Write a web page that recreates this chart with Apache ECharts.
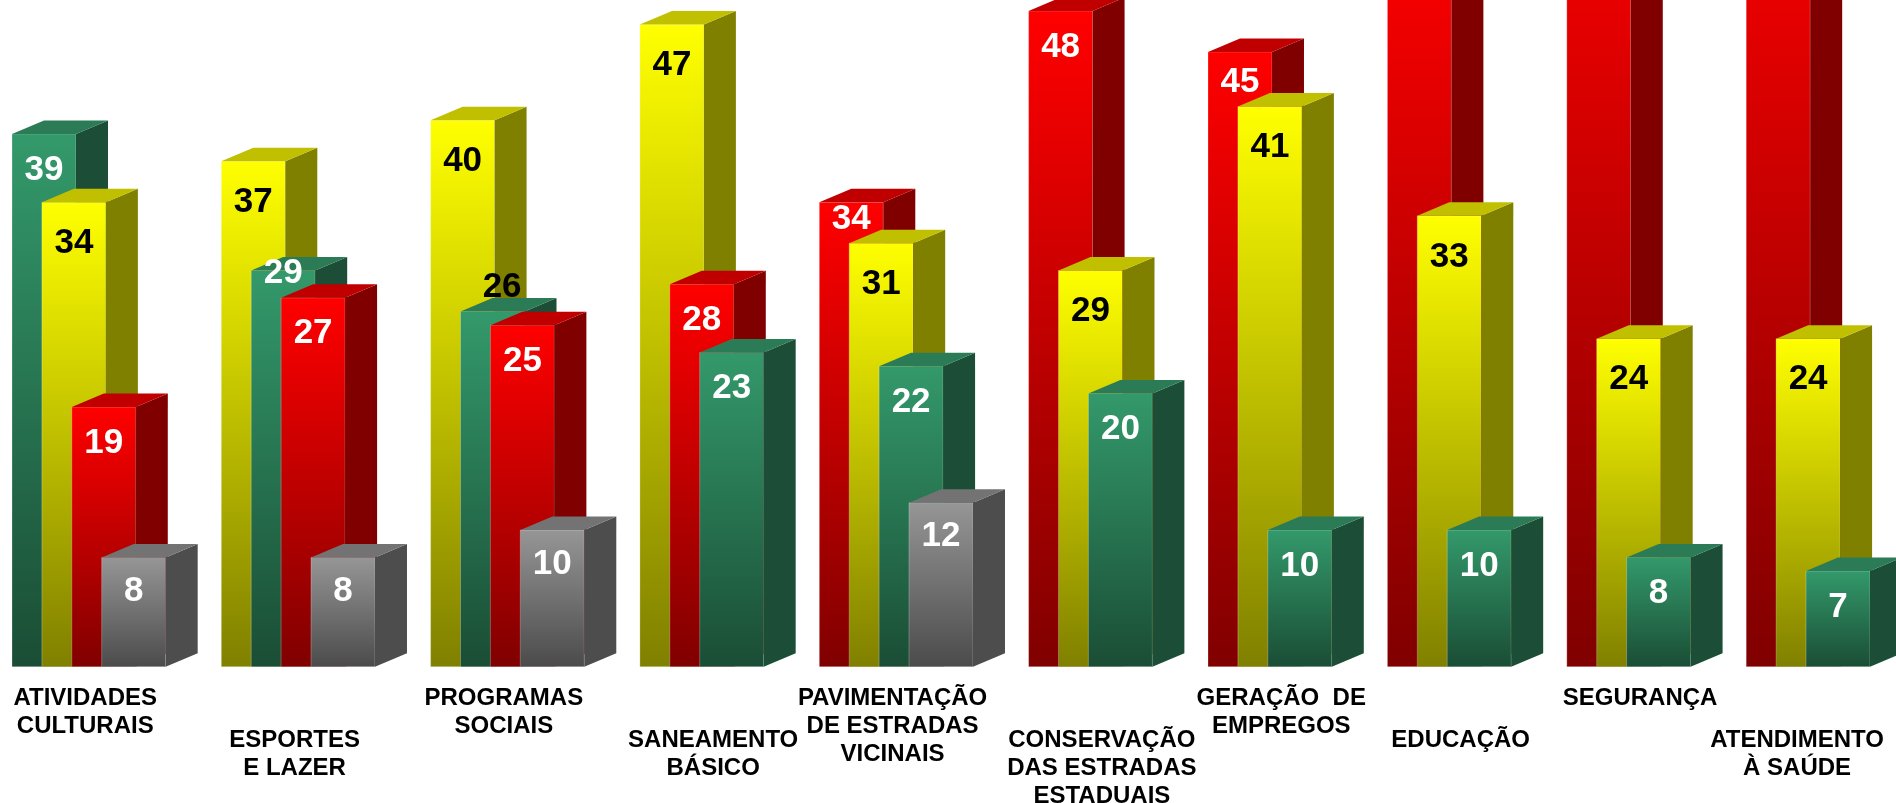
<!DOCTYPE html>
<html>
<head>
<meta charset="utf-8">
<title>Prioridades</title>
<script src="https://cdn.jsdelivr.net/npm/echarts@6/dist/echarts.min.js"></script>
<style>
    html, body { margin: 0; padding: 0; background: #fff; }
    #chart { width: 1896px; height: 803px; }
</style>
</head>
<body>
<div id="chart"></div>
<script>
    // categorias, com as quebras de linha do original
    var categorias = [
        'ATIVIDADES\nCULTURAIS',
        'ESPORTES\nE LAZER',
        'PROGRAMAS\nSOCIAIS',
        'SANEAMENTO\nBÁSICO',
        'PAVIMENTAÇÃO\nDE ESTRADAS\nVICINAIS',
        'CONSERVAÇÃO\nDAS ESTRADAS\nESTADUAIS',
        'GERAÇÃO  DE\nEMPREGOS',
        'EDUCAÇÃO',
        'SEGURANÇA',
        'ATENDIMENTO\nÀ SAÚDE'
    ];
    var verde    = [39, 29, 26, 23, 22, 20, 10, 10, 8, 7];
    var amarelo  = [34, 37, 40, 47, 31, 29, 41, 33, 24, 24];
    var vermelho = [19, 27, 25, 28, 34, 48, 45, 54, 60, 60]; // os 3 ultimos passam do topo
    var cinza    = [8, 8, 10, null, 12, null, null, null, null, null];

    var series_ = [verde, amarelo, vermelho, cinza];

    // estilo de cada cor: frente (degrade), lado, topo, cor do numero
    var cores = [
        {frente: ['#33996b', '#1a4d35'], lado: '#1c4e37', topo: '#2b7b56', texto: '#fff', desloc: 36},
        {frente: ['#ffff00', '#808000'], lado: '#808000', topo: '#c0c000', texto: '#000', desloc: 41},
        {frente: ['#ff0000', '#800000'], lado: '#800000', topo: '#c00000', texto: '#fff', desloc: 36},
        {frente: ['#969696', '#4b4b4b'], lado: '#4d4d4d', topo: '#737373', texto: '#fff', desloc: 34}
    ];

    var LARG = 2.14;    // largura da frente, em "casas" do eixo x
    var FOLGA = 3;      // espaco entre grupos, em casas
    var DX = 32, DY = 13.5; // profundidade 3D
    var fonteNum = 'bold 35px "Liberation Sans", Arial, sans-serif';
    var fonteCat = 'bold 24px "Liberation Sans", Arial, sans-serif';

    // monta as barras: em cada grupo a maior fica atras, as menores vao para a frente
    var barras = [], meta = [], rotulos = [];
    var casa = 0;
    categorias.forEach(function (c, i) {
        var grupo = [];
        series_.forEach(function (s, si) {
            if (s[i] != null) grupo.push({v: s[i], s: si});
        });
        grupo.sort(function (a, b) { return b.v - a.v; });
        grupo.forEach(function (g, k) {
            barras.push([casa + k, g.v]);
            meta.push({s: g.s, prox: k < grupo.length - 1 ? grupo[k + 1].v : null});
        });
        rotulos.push([casa + 2.45, 0]);
        casa += grupo.length + FOLGA;
    });

    var ctx = document.createElement('canvas').getContext('2d');
    function medir(txt) {
        ctx.font = fonteCat;
        return Math.max.apply(null, txt.split('\n').map(function (l) { return ctx.measureText(l).width; }));
    }

    var myEcharts = echarts.init(document.getElementById('chart'));
    myEcharts.setOption({
        animation: false,
        grid: {left: 12, right: 30.2, top: 0, bottom: 136.3},
        xAxis: {type: 'value', min: 0, max: 62, show: false},
        yAxis: {type: 'value', min: 0, max: 48.8, show: false},
        series: [
            {
                type: 'custom',
                name: 'barras',
                data: barras,
                renderItem: function (params, api) {
                    var m = meta[params.dataIndex];
                    var c = cores[m.s];
                    var p = api.coord([api.value(0), api.value(1)]);
                    var b = api.coord([api.value(0), 0]);
                    var w = api.size([LARG, 0])[0];
                    var x = p[0], y = p[1], y0 = b[1];
                    var off = c.desloc, cor = c.texto, tx = x + w / 2;
                    // numero sobe quando a barra da frente tapa
                    if (m.prox != null) {
                        var gap = api.coord([0, m.prox])[1] - y;
                        if (gap < 20) {
                            off = -24; cor = '#000'; tx += DX * 0.3;
                        } else {
                            off = Math.min(off, gap - 24);
                        }
                    }
                    var z = params.dataIndex * 4;
                    return {
                        type: 'group',
                        children: [
                            {
                                type: 'rect', z2: z,
                                shape: {x: x, y: y, width: w, height: y0 - y},
                                style: {
                                    fill: new echarts.graphic.LinearGradient(0, 0, 0, 1, [
                                        {offset: 0, color: c.frente[0]},
                                        {offset: 1, color: c.frente[1]}
                                    ]),
                                    stroke: 'rgba(255,255,255,0.25)', lineWidth: 1
                                }
                            },
                            {
                                type: 'polygon', z2: z + 1,
                                shape: {points: [[x + w, y], [x + w + DX, y - DY], [x + w + DX, y0 - DY], [x + w, y0]]},
                                style: {fill: c.lado}
                            },
                            {
                                type: 'polygon', z2: z + 2,
                                shape: {points: [[x, y], [x + DX, y - DY], [x + w + DX, y - DY], [x + w, y]]},
                                style: {fill: c.topo}
                            },
                            {
                                type: 'text', z2: z + 3, x: tx, y: y + off,
                                style: {
                                    text: String(api.value(1)), fill: cor, font: fonteNum,
                                    align: 'center', verticalAlign: 'middle'
                                }
                            }
                        ]
                    };
                }
            },
            {
                type: 'custom',
                name: 'categorias',
                data: rotulos,
                renderItem: function (params, api) {
                    var i = params.dataIndex;
                    var p = api.coord([api.value(0), 0]);
                    var txt = categorias[i];
                    var x = Math.min(p[0], api.getWidth() - 12 - medir(txt) / 2);
                    return {
                        type: 'text', x: x, y: p[1] + (i % 2 ? 59.3 : 17.3),
                        style: {
                            text: txt, fill: '#000', font: fonteCat,
                            align: 'center', verticalAlign: 'top', lineHeight: 28.3
                        }
                    };
                }
            }
        ]
    });
</script>
</body>
</html>
